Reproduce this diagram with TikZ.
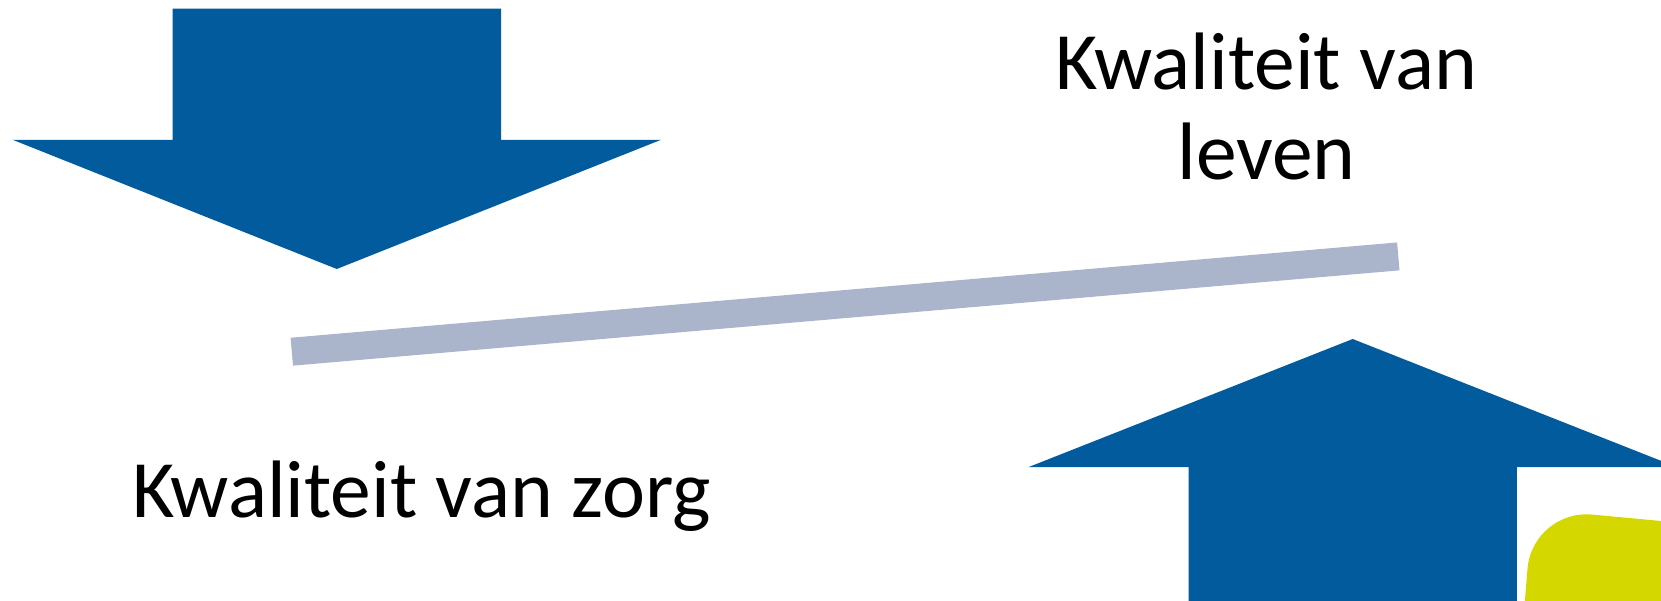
\documentclass[tikz,border=0pt]{standalone}
\usepackage{fontspec}
\setmainfont{Carlito}
\definecolor{kblue}{HTML}{015B9C}
\definecolor{kgray}{HTML}{AAB4CA}
\definecolor{kgreen}{HTML}{D4D800}
\begin{document}
\begin{tikzpicture}[x=1pt,y=-1pt,
  bigtext/.style={inner sep=0pt,font=\fontsize{81.5}{90}\selectfont},
  arrowshape/.style={fill=kblue},
  barline/.style={draw=kgray,line width=28pt}]
\useasboundingbox (0,0) rectangle (1661,600);
\clip (0,0) rectangle (1661,600);
% down arrow
\fill[arrowshape] (172.7,8.5) -- (501,8.5) -- (501,139.8) -- (661,139.8)
  -- (336.8,269) -- (12.7,139.8) -- (172.7,139.8) -- cycle;
% up arrow
\fill[arrowshape] (1188.5,620) -- (1188.5,467.1) -- (1028.5,467.1)
  -- (1352.7,339) -- (1676.9,467.1) -- (1516.9,467.1) -- (1516.9,620) -- cycle;
% yellow-green shape
\fill[kgreen, rounded corners=60pt] (1520,660) -- (1532.4,509) -- (1720,526.5) -- (1720,660) -- cycle;
% gray bar
\coordinate (barL) at (291.8,351.7);
\coordinate (barR) at (1398.3,256.4);
\draw[barline] (barL) -- (barR);
% texts
\node[bigtext,anchor=base west] (zorg) at (132,517) {Kwaliteit van zorg};
\node[bigtext,anchor=base] (leven1) at (1266.5,89) {Kwaliteit van};
\node[bigtext,anchor=base] (leven2) at (1266.5,179) {leven};
\end{tikzpicture}
\end{document}
